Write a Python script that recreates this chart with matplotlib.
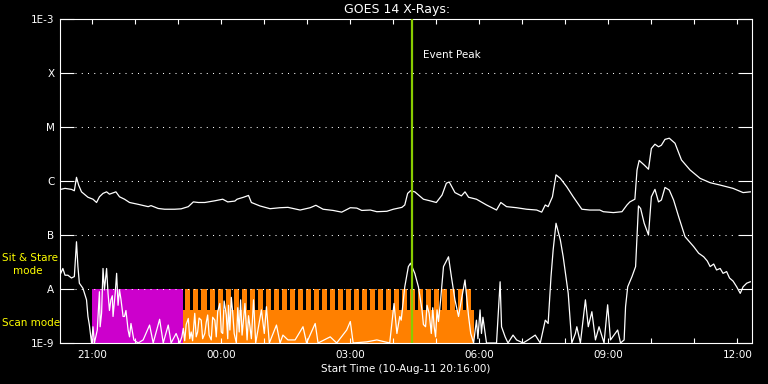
import numpy as np
import matplotlib
matplotlib.use('Agg')
import matplotlib.pyplot as plt

# GOES 14 long channel (1-8 A), W/m^2
long_times = ['20:16', '20:22', '20:31', '20:35', '20:38', '20:41', '20:45', '20:54',
              '21:01', '21:06', '21:10', '21:15', '21:20', '21:24', '21:33', '21:38',
              '21:45', '21:52', '22:04', '22:18', '22:22', '22:32', '22:41', '22:55',
              '23:04', '23:14', '23:21', '23:28', '23:37', '23:51', '00:02', '00:09',
              '00:19', '00:22', '00:31', '00:38', '00:42', '00:54', '01:08', '01:22',
              '01:33', '01:50', '02:04', '02:12', '02:22', '02:36', '02:48', '03:00',
              '03:09', '03:16', '03:28', '03:37', '03:51', '04:00', '04:12', '04:16',
              '04:20', '04:24', '04:30', '04:42', '04:51', '05:00', '05:08', '05:14',
              '05:18', '05:26', '05:35', '05:40', '05:45', '05:56', '06:10', '06:24',
              '06:30', '06:38', '06:52', '07:06', '07:20', '07:27', '07:32', '07:36',
              '07:42', '07:47', '07:53', '08:02', '08:11', '08:23', '08:34', '08:48',
              '08:53', '09:07', '09:19', '09:26', '09:30', '09:37', '09:40', '09:43',
              '09:50', '09:56', '10:00', '10:05', '10:10', '10:14', '10:19', '10:25',
              '10:33', '10:42', '10:54', '11:08', '11:22', '11:36', '11:54', '12:08',
              '12:18']
long_flux = [7.0e-7, 7.3e-7, 7.0e-7, 6.6e-7, 1.17e-6, 8.4e-7, 6.3e-7, 5.0e-7,
             4.6e-7, 4.0e-7, 5.1e-7, 5.9e-7, 6.3e-7, 5.7e-7, 6.3e-7, 5.1e-7,
             4.6e-7, 4.0e-7, 3.7e-7, 3.35e-7, 3.5e-7, 3.1e-7, 3.0e-7, 3.0e-7,
             3.05e-7, 3.35e-7, 4.1e-7, 4.0e-7, 4.0e-7, 4.3e-7, 4.6e-7, 4.1e-7,
             4.25e-7, 4.6e-7, 5.0e-7, 5.4e-7, 4.0e-7, 3.45e-7, 3.07e-7, 3.2e-7,
             3.25e-7, 2.9e-7, 3.2e-7, 3.55e-7, 3.0e-7, 2.85e-7, 2.65e-7, 3.2e-7,
             3.15e-7, 2.85e-7, 2.9e-7, 2.7e-7, 2.75e-7, 3.0e-7, 3.25e-7, 3.6e-7,
             5.9e-7, 6.6e-7, 6.3e-7, 4.6e-7, 4.3e-7, 4.0e-7, 5.5e-7, 9.1e-7,
             9.6e-7, 6.1e-7, 5.3e-7, 6.3e-7, 5.0e-7, 4.6e-7, 3.6e-7, 2.9e-7,
             4.0e-7, 3.35e-7, 3.2e-7, 3.0e-7, 2.9e-7, 2.65e-7, 3.6e-7, 3.35e-7,
             5.1e-7, 1.3e-6, 1.12e-6, 7.8e-7, 5.1e-7, 3.0e-7, 2.9e-7, 2.9e-7,
             2.7e-7, 2.6e-7, 2.7e-7, 3.6e-7, 4.1e-7, 4.6e-7, 1.6e-6, 2.4e-6,
             1.98e-6, 1.65e-6, 4.0e-6, 4.8e-6, 4.3e-6, 4.6e-6, 5.9e-6, 6.2e-6,
             5.0e-6, 2.45e-6, 1.6e-6, 1.12e-6, 9.3e-7, 8.4e-7, 7.3e-7, 6.1e-7,
             6.3e-7]

# GOES 14 short channel (0.5-4 A), W/m^2 (1e-9 = bottom of plot)
short_times = ['20:16', '20:19', '20:22', '20:26', '20:31', '20:35', '20:38', '20:40',
               '20:42', '20:47', '20:52', '20:54', '20:56', '20:59', '21:01', '21:03',
               '21:07', '21:10', '21:11', '21:13', '21:15', '21:17', '21:20', '21:22',
               '21:24', '21:26', '21:28', '21:29', '21:32', '21:34', '21:36', '21:38',
               '21:40', '21:43', '21:45', '21:47', '21:50', '21:52', '21:54', '21:58',
               '22:04', '22:11', '22:20', '22:25', '22:34', '22:39', '22:46', '22:50',
               '22:57', '23:02', '23:05', '23:07', '23:09', '23:11', '23:14', '23:16',
               '23:18', '23:20', '23:23', '23:25', '23:27', '23:29', '23:32', '23:34',
               '23:37', '23:39', '23:41', '23:43', '23:46', '23:48', '23:51', '23:53',
               '23:55', '23:58', '00:00', '00:02', '00:04', '00:07', '00:09', '00:10',
               '00:12', '00:14', '00:16', '00:18', '00:21', '00:23', '00:25', '00:27',
               '00:29', '00:31', '00:33', '00:36', '00:38', '00:40', '00:42', '00:45',
               '00:48', '00:56', '01:00', '01:03', '01:07', '01:17', '01:22', '01:26',
               '01:33', '01:43', '01:54', '01:59', '02:11', '02:15', '02:32', '02:41',
               '02:55', '03:00', '03:04', '03:23', '03:37', '03:55', '04:01', '04:05',
               '04:09', '04:11', '04:16', '04:21', '04:24', '04:30', '04:35', '04:40',
               '04:42', '04:45', '04:47', '04:50', '04:53', '04:55', '04:57', '04:59',
               '05:01', '05:03', '05:06', '05:10', '05:17', '05:21', '05:26', '05:31',
               '05:35', '05:40', '05:45', '05:48', '05:52', '05:56', '05:58', '06:01',
               '06:03', '06:05', '06:10', '06:24', '06:29', '06:31', '06:36', '06:40',
               '06:47', '06:52', '07:01', '07:08', '07:18', '07:25', '07:32', '07:36',
               '07:40', '07:43', '07:47', '07:53', '07:57', '08:04', '08:09', '08:14',
               '08:16', '08:21', '08:28', '08:32', '08:37', '08:42', '08:47', '08:54',
               '08:59', '09:03', '09:13', '09:17', '09:22', '09:24', '09:27', '09:33',
               '09:38', '09:42', '09:45', '09:50', '09:56', '10:00', '10:05', '10:10',
               '10:14', '10:19', '10:25', '10:31', '10:38', '10:47', '10:59', '11:06',
               '11:13', '11:18', '11:22', '11:27', '11:31', '11:36', '11:40', '11:45',
               '11:49', '11:54', '11:59', '12:04', '12:08', '12:13', '12:18']
short_flux = [1.95e-8, 2.4e-8, 1.8e-8, 1.8e-8, 1.6e-8, 1.7e-8, 7.5e-8, 2.6e-8,
              1.28e-8, 1.03e-8, 6.3e-9, 3.1e-9, 2.15e-9, 1e-9, 2.0e-9, 1e-9,
              1.74e-9, 8.9e-9, 2.0e-9, 3.55e-9, 2.4e-8, 9.6e-9, 2.4e-8, 8.3e-9,
              4.0e-9, 6.3e-9, 7.5e-9, 3.1e-9, 8.3e-9, 1.95e-8, 5.0e-9, 9.6e-9,
              6.5e-9, 3.1e-9, 3.1e-9, 4.0e-9, 1.74e-9, 1.3e-9, 2.3e-9, 1.14e-9,
              1e-9, 1.14e-9, 2.15e-9, 1e-9, 2.75e-9, 1e-9, 2.15e-9, 1e-9,
              1.5e-9, 1e-9, 1.3e-9, 1.87e-9, 1.1e-9, 2.2e-9, 2.85e-9, 1.2e-9,
              1.6e-9, 1.1e-9, 3.55e-9, 1.3e-9, 1.6e-9, 2.9e-9, 2.65e-9, 1.2e-9,
              1.5e-9, 2.4e-9, 3.3e-9, 1.4e-9, 1.14e-9, 3.0e-9, 2.65e-9, 1.3e-9,
              3.8e-9, 5.4e-9, 1.6e-9, 1.5e-9, 6.0e-9, 3.3e-9, 1.2e-9, 5.0e-9,
              1.74e-9, 7.0e-9, 3.55e-9, 1.5e-9, 1e-9, 4.5e-9, 1.6e-9, 6.3e-9,
              1.4e-9, 2.65e-9, 5.4e-9, 1.14e-9, 3.2e-9, 2.0e-9, 1.2e-9, 6.3e-9,
              1e-9, 4.1e-9, 1.5e-9, 4.7e-9, 1e-9, 2.15e-9, 1e-9, 1.4e-9,
              1.14e-9, 1.14e-9, 2.0e-9, 1e-9, 2.3e-9, 1e-9, 1.3e-9, 1e-9,
              1.74e-9, 2.5e-9, 1e-9, 1.05e-9, 1.14e-9, 1e-9, 5.4e-9, 1.5e-9,
              3.1e-9, 2.65e-9, 1.1e-8, 2.6e-8, 3.0e-8, 1.95e-8, 1.1e-8, 4.1e-9,
              2.2e-9, 2.0e-9, 5.0e-9, 3.55e-9, 1.5e-9, 4.5e-9, 2.0e-9, 1.3e-9,
              4.1e-9, 2.5e-9, 6.3e-9, 2.6e-8, 3.95e-8, 1.7e-8, 6.3e-9, 3.1e-9,
              6.3e-9, 1.47e-8, 3.1e-9, 1.5e-9, 1e-9, 2.65e-9, 1.2e-9, 4.1e-9,
              1.5e-9, 3.0e-9, 1e-9, 1e-9, 1.36e-8, 2.0e-9, 1.3e-9, 1e-9,
              1.4e-9, 1.14e-9, 1e-9, 1.14e-9, 1.4e-9, 1e-9, 2.65e-9, 2.3e-9,
              1.7e-8, 5.3e-8, 1.65e-7, 8.1e-8, 3.95e-8, 8.3e-9, 1e-9, 1.5e-9,
              2.0e-9, 1e-9, 6.3e-9, 2.0e-9, 3.8e-9, 1.14e-9, 2.0e-9, 1e-9,
              5.1e-9, 1.14e-9, 1.74e-9, 1e-9, 1.14e-9, 4.7e-9, 1.1e-8, 1.7e-8,
              2.6e-8, 3.45e-7, 3.1e-7, 1.65e-7, 1.0e-7, 5.1e-7, 7.0e-7, 4.1e-7,
              4.45e-7, 7.6e-7, 6.8e-7, 4.45e-7, 2.2e-7, 9.3e-8, 6.1e-8, 4.6e-8,
              3.95e-8, 3.3e-8, 2.6e-8, 2.9e-8, 2.25e-8, 2.4e-8, 1.95e-8, 2.1e-8,
              1.6e-8, 1.4e-8, 1.1e-8, 8.3e-9, 1.1e-8, 1.28e-8, 1.36e-8]

# observing modes
sitstare_start, sitstare_end = '21:00', '23:06'
scan_start, scan_end = '23:06', '05:52'
scan_cycle_start = '23:10'
scan_cycle_min = 11.2
scan_on_min = 7.0
n_scan_cycles = 36
event_peak = '04:26'

level_ticks = [1e-9, 1e-8, 1e-7, 1e-6, 1e-5, 1e-4, 1e-3]
level_labels = ['1E-9', 'A', 'B', 'C', 'M', 'X', '1E-3']
hour_labels = ['21:00', '00:00', '03:00', '06:00', '09:00', '12:00']

assert len(short_times) == len(short_flux)
assert len(long_times) == len(long_flux)


def to_hours(t):
    # hours since 10-Aug-11 00:00
    h, m = map(int, t.split(':'))
    if h < 20:
        h += 24
    return h + m / 60.0


plt.rcParams['font.family'] = 'DejaVu Sans'
fig = plt.figure(figsize=(7.68, 3.84), dpi=100, facecolor='black')
ax = fig.add_axes([60 / 768, 1 - 343 / 384, 692 / 768, 324 / 384])
ax.set_facecolor('black')
ax.set_yscale('log')

# mode blocks
t0, t1 = to_hours(sitstare_start), to_hours(sitstare_end)
ax.fill_between([t0, t1], 1e-9, 1e-8, color='#cc00cc', lw=0, zorder=1)
s0, s1 = to_hours(scan_start), to_hours(scan_end)
scan_top = 10 ** -8.39
ax.fill_between([s0, s1], 1e-9, scan_top, color='#ff8000', lw=0, zorder=1)
c0 = to_hours(scan_cycle_start)
starts = c0 + np.arange(n_scan_cycles) * scan_cycle_min / 60.0
ax.bar(starts, 1e-8 - scan_top, width=scan_on_min / 60.0, bottom=scan_top,
       align='edge', color='#ff8000', lw=0, zorder=1)

# dotted level lines, kept clear of the tick marks
for lv in level_ticks[1:-1]:
    ax.axhline(lv, xmin=15 / 692, xmax=1 - 15 / 692, color='white', lw=0.75,
               linestyle=(0, (1, 5)), zorder=3)

lt = [to_hours(t) for t in long_times]
st = [to_hours(t) for t in short_times]
ax.plot(lt, long_flux, color='white', lw=0.9, zorder=4)
ax.plot(st, short_flux, color='white', lw=0.9, zorder=4)

ev = to_hours(event_peak)
ax.axvline(ev, color='#88cc00', lw=1.6, zorder=5)
ax.annotate('Event Peak', xy=(ev, 1), xycoords=('data', 'axes fraction'),
            xytext=(8, -26), textcoords='offset points', color='white',
            fontsize=7.5, ha='left', va='center')

ax.set_xlim(20.25, 36.34)
ax.set_ylim(1e-9, 1e-3)
ax.set_yticks(level_ticks)
ax.set_yticklabels(level_labels)
ax.yaxis.set_minor_locator(matplotlib.ticker.NullLocator())
ax.set_xticks([21, 24, 27, 30, 33, 36])
ax.set_xticklabels(hour_labels)
ax.set_xticks(np.arange(21, 37), minor=True)

ax.tick_params(axis='y', which='major', direction='in', length=10, width=0.8,
               colors='white', labelsize=7.5, left=True, right=True, pad=4)
ax.tick_params(axis='x', which='both', direction='in', length=3.6, width=0.8,
               colors='white', labelsize=7.5, top=True, bottom=True, pad=5)
for sp in ax.spines.values():
    sp.set_color('white')
    sp.set_linewidth(0.8)

ax.set_xlabel('Start Time (10-Aug-11 20:16:00)', color='white', fontsize=7.5,
              labelpad=3)
fig.text(397 / 768, 1 - 9 / 384, 'GOES 14 X-Rays:', color='white', fontsize=9,
         ha='center', va='center')
fig.text(2 / 768, 1 - 258 / 384, 'Sit & Stare', color='#ffff00', fontsize=7.5,
         ha='left', va='center')
fig.text(13 / 768, 1 - 271 / 384, 'mode', color='#ffff00', fontsize=7.5,
         ha='left', va='center')
fig.text(2 / 768, 1 - 323 / 384, 'Scan mode', color='#ffff00', fontsize=7.5,
         ha='left', va='center')

fig.savefig('out.png', dpi=100, facecolor='black')
